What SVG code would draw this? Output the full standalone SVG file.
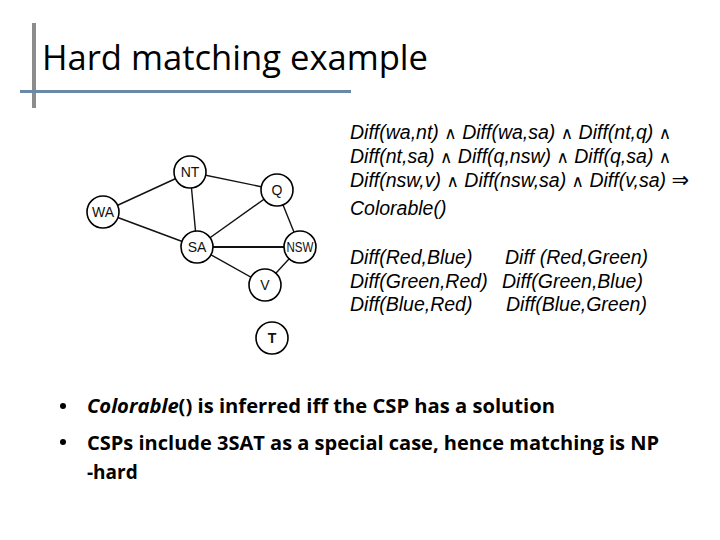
<svg xmlns="http://www.w3.org/2000/svg" width="720" height="540" viewBox="0 0 720 540">
<style>
.node circle{fill:#fff;stroke:#000;stroke-width:1.6}
.node text{font-family:"Liberation Sans",Arial,sans-serif;font-size:14px;text-anchor:middle;fill:#111}
.edges line{stroke:#111;stroke-width:1.4}
.f{font-family:"Liberation Sans",Arial,sans-serif;font-size:19.5px;font-style:italic;fill:#000}
.op{font-style:normal;font-size:17px;font-family:"DejaVu Sans",sans-serif}
.imp{font-style:normal;font-size:21px;font-family:"DejaVu Sans",sans-serif}
.b{font-family:"Open Sans","Noto Sans",sans-serif;font-size:19px;font-weight:bold;fill:#000}
</style>
<rect width="720" height="540" fill="#fff"/>
<rect x="32" y="23" width="4" height="85" fill="#8c8c8c"/>
<rect x="20" y="90" width="331" height="3" fill="#6a88a8"/>
<text x="42" y="70" font-family="'Open Sans','Noto Sans',sans-serif" font-size="35" textLength="386" lengthAdjust="spacingAndGlyphs" fill="#000">Hard matching example</text>

<g class="edges">
<line x1="103" y1="212" x2="190" y2="172"/>
<line x1="103" y1="212" x2="197" y2="247"/>
<line x1="190" y1="172" x2="197" y2="247"/>
<line x1="190" y1="172" x2="277" y2="190"/>
<line x1="277" y1="190" x2="197" y2="247"/>
<line x1="277" y1="190" x2="300" y2="247"/>
<line x1="197" y1="247" x2="300" y2="247" style="stroke-width:2.2"/>
<line x1="197" y1="247" x2="265" y2="285"/>
<line x1="265" y1="285" x2="300" y2="247"/>
</g>
<g id="NT" class="node"><circle cx="190" cy="172" r="16"/><text x="190" y="177">NT</text></g>
<g id="Q" class="node"><circle cx="277" cy="190" r="16"/><text x="277" y="195">Q</text></g>
<g id="WA" class="node"><circle cx="103" cy="212" r="16"/><text x="103" y="217">WA</text></g>
<g id="SA" class="node"><circle cx="197" cy="247" r="16"/><text x="197" y="252">SA</text></g>
<g id="NSW" class="node"><circle cx="300" cy="247" r="16"/><text x="300" y="252" textLength="27" lengthAdjust="spacingAndGlyphs">NSW</text></g>
<g id="V" class="node"><circle cx="265" cy="285" r="16"/><text x="265" y="290">V</text></g>
<g id="T" class="node"><circle cx="272" cy="338" r="16"/><text x="272" y="343" font-weight="bold">T</text></g>

<text class="f" x="350" y="139">Diff(wa,nt) <tspan class="op">∧</tspan> Diff(wa,sa) <tspan class="op">∧</tspan> Diff(nt,q) <tspan class="op">∧</tspan></text>
<text class="f" x="350" y="163">Diff(nt,sa) <tspan class="op">∧</tspan> Diff(q,nsw) <tspan class="op">∧</tspan> Diff(q,sa) <tspan class="op">∧</tspan></text>
<text class="f" x="350" y="187">Diff(nsw,v) <tspan class="op">∧</tspan> Diff(nsw,sa) <tspan class="op">∧</tspan> Diff(v,sa) <tspan class="imp">⇒</tspan></text>
<text class="f" x="350" y="215">Colorable()</text>

<text class="f" x="350" y="264">Diff(Red,Blue)</text>
<text class="f" x="505" y="264">Diff (Red,Green)</text>
<text class="f" x="350" y="288">Diff(Green,Red)</text>
<text class="f" x="502" y="288">Diff(Green,Blue)</text>
<text class="f" x="350" y="311">Diff(Blue,Red)</text>
<text class="f" x="506" y="311">Diff(Blue,Green)</text>

<circle cx="63" cy="406" r="3" fill="#000"/>
<text class="b" x="87" y="413" textLength="468" lengthAdjust="spacingAndGlyphs"><tspan font-style="italic">Colorable</tspan>() is inferred iff the CSP has a solution</text>
<circle cx="63" cy="442" r="3" fill="#000"/>
<text class="b" x="87" y="450" textLength="572" lengthAdjust="spacingAndGlyphs">CSPs include 3SAT as a special case, hence matching is NP</text>
<text class="b" x="87" y="479">-hard</text>
</svg>
